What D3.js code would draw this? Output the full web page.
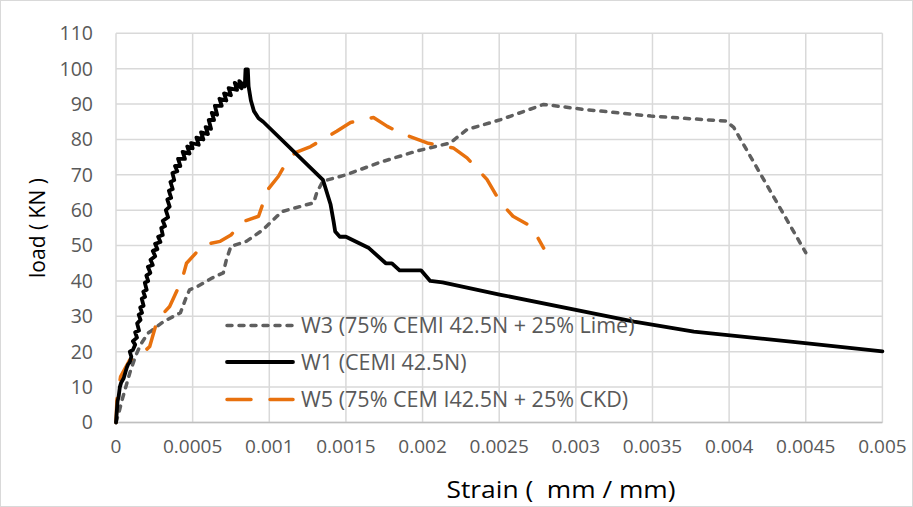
<!DOCTYPE html>
<html><head><meta charset="utf-8">
<script src="https://cdn.jsdelivr.net/npm/d3@7"></script>
<style>
html,body{margin:0;padding:0;background:#fff;}
svg{display:block;}
</style></head>
<body>
<svg id="chart" width="913" height="507"></svg>
<script>
// ---- data (strain, load kN) ----
const xTicks = [0,0.0005,0.001,0.0015,0.002,0.0025,0.003,0.0035,0.004,0.0045,0.005];
const xTickLabels = ["0","0.0005","0.001","0.0015","0.002","0.0025","0.003","0.0035","0.004","0.0045","0.005"];
const yTicks = [0,10,20,30,40,50,60,70,80,90,100,110];

const seriesNames = ["W3 (75% CEMI 42.5N + 25% Lime)","W1 (CEMI 42.5N)","W5 (75% CEM I42.5N + 25% CKD)"];

const w3Strain = [0,0.00002,0.00004,0.00009,0.000126,0.00016,0.00021,0.000224,0.00031,0.00042,0.00046,0.00048,0.00053,0.00063,0.0007,0.00072,0.00075,0.00085,0.00096,0.00105,0.00109,0.00129,0.00131,0.00135,0.0015,0.00172,0.00196,0.00218,0.00229,0.00251,0.00279,0.00305,0.00349,0.00398,0.00403,0.0045];
const w3Load   = [0,3,6.4,14,18.6,22,25.3,25.7,28.5,31,35.6,37.5,38.4,40.9,42.3,46,49.8,51.2,54.5,58.3,59.7,62.1,65,68.2,70,73.5,76.7,79,82.8,85.6,89.9,88.5,86.6,85.2,83.4,48];

const w1Strain = [0,0.000005,0.00001,0.000017,0.000025,0.000033,0.00005,0.00006,0.00007,0.00008,0.00009,0.0001,0.00009,0.00011,0.000125,0.00011,0.000137,0.000125,0.00015,0.000138,0.00016,0.000148,0.00017,0.000158,0.00018,0.000168,0.00019,0.000178,0.0002,0.000188,0.00021,0.000198,0.000224,0.000208,0.00024,0.000225,0.000256,0.00024,0.00027,0.000255,0.00029,0.000275,0.000305,0.000295,0.00032,0.000305,0.00034,0.000325,0.00035,0.000335,0.00036,0.000345,0.00037,0.000355,0.00038,0.000368,0.0004,0.000385,0.00042,0.000405,0.00045,0.000435,0.00048,0.000465,0.0005,0.00049,0.00054,0.000525,0.00057,0.000555,0.0006,0.000585,0.00062,0.000605,0.00064,0.000625,0.00066,0.000645,0.00069,0.000675,0.00072,0.000705,0.00075,0.000735,0.00079,0.000775,0.00082,0.000805,0.00084,0.000845,0.00086,0.000865,0.00088,0.0009,0.00093,0.00096,0.00135,0.0014,0.00142,0.00143,0.00146,0.0015,0.00165,0.00176,0.0018,0.00185,0.00199,0.00205,0.00213,0.00251,0.00338,0.00377,0.00448,0.005];
const w1Load   = [0,3,6,7.3,10,11.2,12.5,14,15.5,16.5,17,18.6,20,20.5,22,23,24,25.5,26,28,29,30.5,31,32.5,33,35,35.5,37,37.5,39.5,40,41.5,42.3,44,44.5,46,47,48.5,49,50.5,51,52.5,53,55,55.5,57,58,60,61,63,63.5,65.5,66,68,68.5,70.5,71,72.5,72.5,74.5,74.5,76.5,76,78,77.5,79,78.5,80.5,80,82,81.5,83.5,83,85.5,85.5,87.5,87,89.5,89.5,91.5,91,93,92.5,94.5,94,96,94.5,96.5,95,99.8,99.8,95,91,88,86,85,68.6,61.6,56.7,54,52.5,52.5,49.3,45,45,43,43,40,39.6,36.1,28.5,25.7,22.5,20.1];

const w5Strain = [0,0.000006,0.00003,0.00009,0.00015,0.00022,0.00027,0.00035,0.00043,0.00046,0.00057,0.00068,0.00075,0.00083,0.00093,0.00099,0.00106,0.00111,0.00117,0.00127,0.00144,0.00153,0.00168,0.00177,0.00185,0.00203,0.0022,0.00229,0.00242,0.00251,0.00259,0.00271,0.00279];
const w5Load   = [0,6.4,13,17.7,18.6,21.5,29,32.8,40.3,45,50.2,51.2,53,56.8,58.3,65.8,69.6,73.4,76.3,78,82.3,84.8,86.2,83.7,81.9,79,77.6,74.8,68.7,62.1,58.3,55.4,49.3];

// ---- layout ----
const svg = d3.select("#chart");
const W = 913, H = 507;
const pLeft = 116, pRight = 882.4, pTop = 33.3, pBottom = 422.5;

const x = d3.scaleLinear().domain([0,0.005]).range([pLeft,pRight]);
const y = d3.scaleLinear().domain([0,110]).range([pBottom,pTop]);

svg.append("rect").attr("x",0.5).attr("y",0.5).attr("width",W-1).attr("height",H-1)
  .attr("fill","#fff").attr("stroke","#d9d9d9").attr("stroke-width",1);

// gridlines
const grid = svg.append("g");
grid.selectAll("line.h").data(yTicks).join("line").attr("class","h")
  .attr("x1",pLeft).attr("x2",pRight).attr("y1",d=>y(d)).attr("y2",d=>y(d))
  .attr("stroke","#d9d9d9").attr("stroke-width",1.5);
grid.selectAll("line.v").data(xTicks).join("line").attr("class","v")
  .attr("y1",pTop).attr("y2",pBottom).attr("x1",d=>x(d)).attr("x2",d=>x(d))
  .attr("stroke","#d9d9d9").attr("stroke-width",1.5);
// x axis line
svg.append("line").attr("x1",pLeft).attr("x2",pRight).attr("y1",pBottom).attr("y2",pBottom)
  .attr("stroke","#bfbfbf").attr("stroke-width",1.5);

const tickFont = "'Open Sans', sans-serif";
// y tick labels
svg.append("g").selectAll("text").data(yTicks).join("text")
  .attr("x",93).attr("y",d=>y(d)).attr("dy","0.35em")
  .attr("text-anchor","end").attr("font-family",tickFont).attr("font-size",19.5)
  .attr("fill","#595959").text(d=>d);
// x tick labels
svg.append("g").selectAll("text").data(xTicks).join("text")
  .attr("x",d=>x(d)).attr("y",446).attr("dy","0.35em")
  .attr("text-anchor","middle").attr("font-family",tickFont).attr("font-size",19)
  .attr("fill","#595959").text((d,i)=>xTickLabels[i]);

// axis titles
svg.append("text").attr("x",561).attr("y",498).attr("text-anchor","middle")
  .attr("font-family","'Liberation Sans Narrow','Open Sans',sans-serif").attr("font-size",23)
  .attr("fill","#000").attr("textLength",229).attr("lengthAdjust","spacingAndGlyphs")
  .style("white-space","pre")
  .text("Strain (  mm / mm)");
svg.append("text").attr("transform","translate(45,228) rotate(-90)").attr("text-anchor","middle")
  .attr("font-family","'Open Sans',sans-serif").attr("font-size",21)
  .attr("fill","#000").style("white-space","pre").text("load ( KN )");

// lines
const line = d3.line().x(d=>x(d[0])).y(d=>y(d[1]));
const series = [
  {name:seriesNames[0], data:d3.zip(w3Strain,w3Load), color:"#5f5f5f", width:3.5, dash:"5,7", cap:"round"},
  {name:seriesNames[1], data:d3.zip(w1Strain,w1Load), color:"#000000", width:3.8, dash:null, cap:"round"},
  {name:seriesNames[2], data:d3.zip(w5Strain,w5Load), color:"#e8710e", width:3.5, dash:"24,19", cap:"round"}
];
const drawOrder = [0,2,1];
drawOrder.forEach(i=>{
  const s = series[i];
  svg.append("path").datum(s.data).attr("d",line)
    .attr("fill","none").attr("stroke",s.color).attr("stroke-width",s.width)
    .attr("stroke-linejoin","round").attr("stroke-linecap",s.cap)
    .attr("stroke-dasharray",s.dash);
});

// legend
const legY = [325.5, 362, 399.5];
const leg = svg.append("g");
series.forEach((s,i)=>{
  leg.append("line").attr("x1",227).attr("x2",293).attr("y1",legY[i]).attr("y2",legY[i])
    .attr("stroke",s.color).attr("stroke-width",s.width).attr("stroke-linecap",s.cap)
    .attr("stroke-dasharray",s.dash);
  leg.append("text").attr("x",301).attr("y",legY[i]).attr("dy","0.35em")
    .attr("font-family",tickFont).attr("font-size",21.5).attr("fill","#595959").text(s.name);
});
</script>
</body></html>
